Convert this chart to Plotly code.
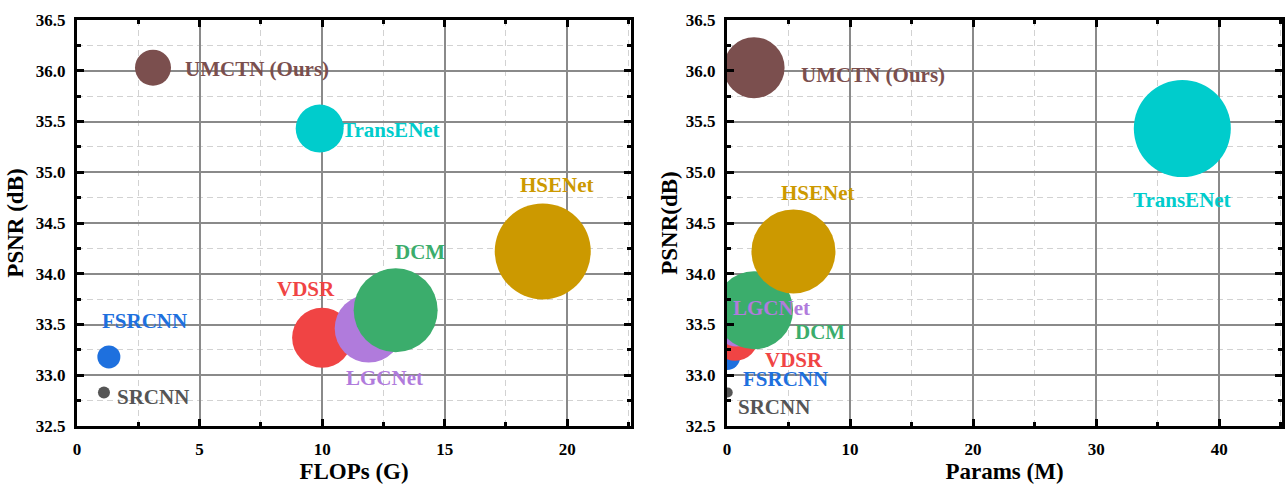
import plotly.graph_objects as go

# ---- data ----
models = ["SRCNN", "FSRCNN", "VDSR", "LGCNet", "DCM", "HSENet", "TransENet", "UMCTN (Ours)"]
psnr = [32.83, 33.18, 33.37, 33.46, 33.64, 34.22, 35.43, 36.03]
flops = [1.1, 1.3, 10.0, 11.9, 13.0, 19.0, 9.9, 3.1]
params = [0.06, 0.01, 0.67, 0.75, 2.2, 5.4, 37.0, 2.2]
colors = ["#555555", "#1E70DE", "#F04444", "#B07BDC", "#3BAD6C", "#CC9900", "#00CCCC", "#7B4F4E"]

# bubble diameters (px) as drawn in each panel
flops_bubble = [12, 23, 60, 68, 84, 96, 48, 36]
params_bubble = [10, 26, 46, 36, 78, 84, 97, 61]

# label anchor positions (data units)
flops_label_x = [3.1, 2.75, 9.35, 12.56, 14.0, 19.6, 12.8, 7.33]
flops_label_y = [32.79, 33.53, 33.85, 32.97, 34.21, 34.87, 35.42, 36.02]
params_label_x = [3.79, 4.78, 5.46, 3.59, 7.58, 7.38, 36.94, 11.87]
params_label_y = [32.69, 32.96, 33.15, 33.66, 33.43, 34.80, 34.73, 35.96]

FONT = "Liberation Serif"

fig = go.Figure()

fig.add_trace(go.Scatter(
    x=flops, y=psnr, mode="markers", xaxis="x", yaxis="y",
    marker=dict(size=flops_bubble, color=colors, opacity=1, line=dict(width=0)),
    showlegend=False, hoverinfo="text", text=models))
fig.add_trace(go.Scatter(
    x=params, y=psnr, mode="markers", xaxis="x2", yaxis="y2",
    marker=dict(size=params_bubble, color=colors, opacity=1, line=dict(width=0)),
    showlegend=False, hoverinfo="text", text=models))

annotations = []
for name, c, lx, ly in zip(models, colors, flops_label_x, flops_label_y):
    annotations.append(dict(x=lx, y=ly, xref="x", yref="y", text=name,
                            showarrow=False, xanchor="center", yanchor="middle",
                            font=dict(family=FONT, size=21, color=c, weight="bold")))
for name, c, lx, ly in zip(models, colors, params_label_x, params_label_y):
    annotations.append(dict(x=lx, y=ly, xref="x2", yref="y2", text=name,
                            showarrow=False, xanchor="center", yanchor="middle",
                            font=dict(family=FONT, size=21, color=c, weight="bold")))

tickfont = dict(family=FONT, size=17, color="black", weight="bold")
titlefont = dict(family=FONT, size=23, color="black", weight="bold")


def axis_common(dtick, minor_dtick):
    return dict(
        showline=True, linecolor="black", linewidth=3, mirror="ticks",
        ticks="inside", ticklen=7, tickwidth=3, tickcolor="black",
        dtick=dtick, tick0=0,
        showgrid=True, gridcolor="#8a8a8a", gridwidth=1.5,
        zeroline=False, tickfont=tickfont, automargin=False,
        minor=dict(dtick=minor_dtick, tick0=0, ticks="inside", ticklen=4, tickwidth=2.5,
                   tickcolor="black", showgrid=True, gridcolor="#d2d2d2",
                   gridwidth=1.2, griddash="6px,4px"),
    )


ydom = [1 - 426 / 489, 1 - 20 / 489]

fig.update_layout(
    width=1286, height=489,
    margin=dict(l=0, r=0, t=0, b=0),
    paper_bgcolor="white", plot_bgcolor="white",
    font=dict(family=FONT),
    xaxis=dict(**axis_common(5, 2.5), domain=[77 / 1286, 631 / 1286], range=[0, 22.6],
               anchor="y", ticklabelstandoff=6,
               title=dict(text="FLOPs (G)", font=titlefont, standoff=5)),
    yaxis=dict(**axis_common(0.5, 0.25), domain=ydom, range=[32.5, 36.5], anchor="x",
               tickformat=".1f", ticklabelstandoff=5,
               title=dict(text="PSNR (dB)", font=titlefont, standoff=6)),
    xaxis2=dict(**axis_common(10, 5), domain=[727 / 1286, 1282 / 1286], range=[0, 45.1],
                anchor="y2", ticklabelstandoff=6,
                title=dict(text="Params (M)", font=titlefont, standoff=5)),
    yaxis2=dict(**axis_common(0.5, 0.25), domain=ydom, range=[32.5, 36.5], anchor="x2",
                tickformat=".1f", ticklabelstandoff=5,
                title=dict(text="PSNR(dB)", font=titlefont, standoff=2)),
    annotations=annotations,
)

fig.write_html("out.html", config={"displayModeBar": False},
               post_script="document.body.style.margin='0px';document.body.style.overflow='hidden';")
